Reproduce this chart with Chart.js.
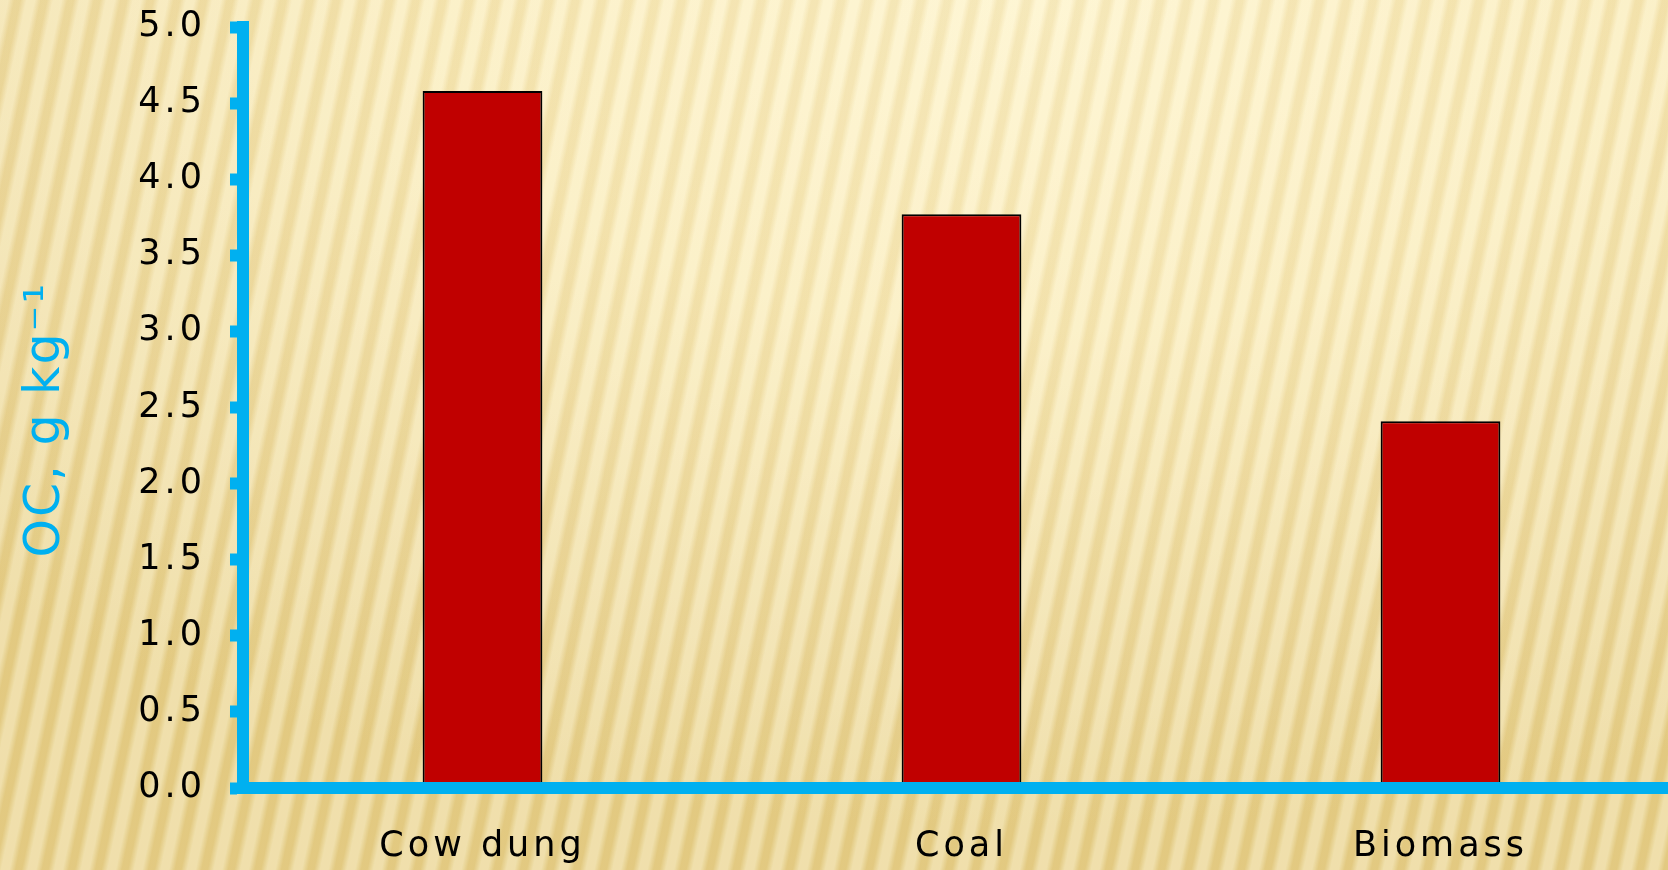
<!DOCTYPE html>
<html>
<head>
<meta charset="utf-8">
<script src="https://cdn.jsdelivr.net/npm/chart.js@4/dist/chart.umd.min.js"></script>
<style>
  html, body {
    margin: 0;
    padding: 0;
    width: 1668px;
    height: 870px;
    overflow: hidden;
  }
  body {
    background:
      repeating-linear-gradient(102deg, rgba(255,250,225,0.38) 0px, rgba(255,250,225,0.38) 8px, rgba(205,170,80,0.15) 14px, rgba(205,170,80,0.15) 20px, rgba(255,250,225,0.38) 26px),
      radial-gradient(ellipse 90% 95% at 62% 0%, #fdf3cc 0%, #f9ebbb 40%, #ecd89c 80%, #e6cf8a 100%);
  }
  #wrap {
    position: absolute;
    left: 0;
    top: 0;
    width: 1680px;
    height: 870px;
  }
</style>
</head>
<body>
<div id="wrap"><canvas id="myChart"></canvas></div>
<script>
"use strict";

//Categories and OC values.
var categories = ["Cow dung", "Coal", "Biomass"];
var ocValues = [4.58, 3.77, 2.41];
var yTicks = [0, 0.5, 1, 1.5, 2, 2.5, 3, 3.5, 4, 4.5, 5];

var axisBlue = "#00b0f0";
var fontName = "'DejaVu Sans', sans-serif";

//Wide letter spacing like the original slide font.
var spacingPlugin = {
    id: "spacing",
    beforeUpdate: function (chart) { chart.ctx.letterSpacing = "4px"; },
    beforeDraw: function (chart) { chart.ctx.letterSpacing = "4px"; }
};

//The axis title is set tighter than the tick labels.
function tightTitle(scale) {
    if (scale._tightTitle) return;
    var orig = scale.drawTitle;
    scale.drawTitle = function () {
        var c = this.ctx;
        var old = c.letterSpacing;
        c.letterSpacing = "2px";
        orig.apply(this, arguments);
        c.letterSpacing = old;
    };
    scale._tightTitle = true;
}

var ctx = document.getElementById("myChart").getContext("2d");
var myChart = new Chart(ctx, {
    type: "bar",
    data: {
        labels: categories,
        datasets: [{
            data: ocValues,
            backgroundColor: "#c00000",
            borderColor: "#000000",
            borderWidth: 2,
            categoryPercentage: 1,
            barPercentage: 0.25
        }]
    },
    options: {
        responsive: true,
        maintainAspectRatio: false,
        animation: false,
        layout: { padding: { top: 27, left: 0, right: 0, bottom: 0 } },
        plugins: {
            legend: { display: false },
            tooltip: { enabled: false }
        },
        scales: {
            x: {
                grid: { display: true, drawOnChartArea: false, drawTicks: false },
                border: { display: true, color: axisBlue, width: 12, z: 1 },
                ticks: {
                    color: "#000",
                    padding: 38,
                    font: { family: fontName, size: 35 }
                },
                afterFit: function (scale) { scale.height = 82; }
            },
            y: {
                min: 0,
                max: 5,
                afterBuildTicks: function (scale) {
                    scale.ticks = yTicks.map(function (v) { return { value: v }; });
                },
                grid: {
                    drawOnChartArea: false,
                    drawTicks: true,
                    tickLength: 13,
                    tickWidth: 12,
                    tickColor: axisBlue
                },
                border: { display: true, color: axisBlue, width: 12, z: 1 },
                ticks: {
                    color: "#000",
                    padding: 24,
                    font: { family: fontName, size: 35 },
                    callback: function (v) { return v.toFixed(1); }
                },
                title: {
                    display: true,
                    text: "OC, g kg\u207b\u00b9 \u200a",
                    color: axisBlue,
                    padding: { top: 17, bottom: 0 },
                    font: { family: fontName, size: 49 }
                },
                afterFit: function (scale) {
                    scale.width = 243;
                    scale.paddingTop = 0;
                    scale.paddingBottom = 0;
                    tightTitle(scale);
                }
            }
        }
    },
    plugins: [spacingPlugin]
});
</script>
</body>
</html>
